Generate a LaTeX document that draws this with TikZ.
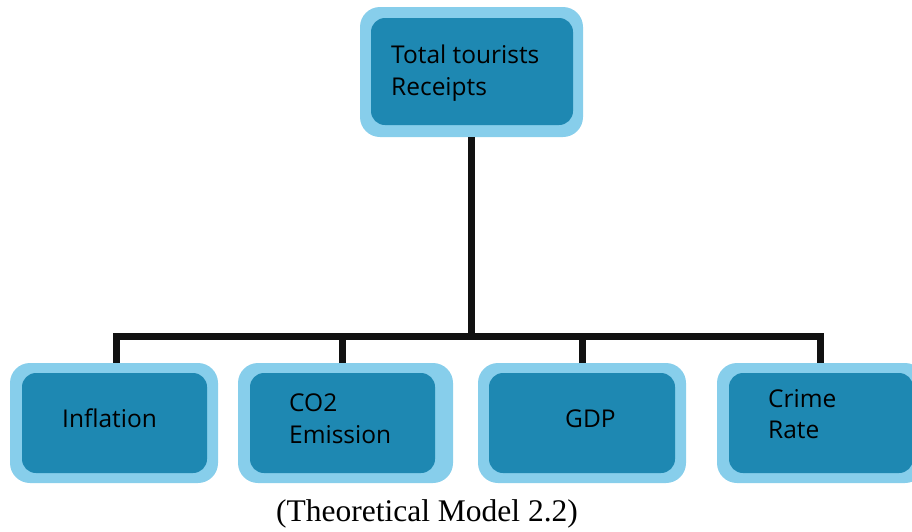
\documentclass[tikz,border=0pt]{standalone}
\usepackage{fontspec}
\setmainfont{Liberation Serif}
\newfontfamily\boxfont{Open Sans}
\definecolor{outerblue}{RGB}{135,206,235}
\definecolor{innerblue}{RGB}{30,136,178}
\definecolor{linecol}{RGB}{17,17,17}
\begin{document}
\begin{tikzpicture}[x=1pt,y=-1pt,
  outerbox/.style={rectangle, rounded corners=20pt, fill=outerblue, inner sep=0pt, outer sep=0pt, minimum height=120pt},
  innerbox/.style={rectangle, rounded corners=14pt, fill=innerblue, inner sep=0pt, outer sep=0pt, minimum height=100pt},
  lbl/.style={anchor=base west, inner sep=0pt, font=\boxfont\fontsize{24.5}{30}\selectfont, text=black},
  conn/.style={draw=linecol, line width=7pt, line join=miter}]
\clip (0,0) rectangle (912,531);
% top box
\node[outerbox, minimum width=223pt, minimum height=130pt] (top) at (471.5,72) {};
\node[innerbox, minimum width=202pt, minimum height=107pt] (topi) at (472,71.5) {};
\node[lbl] (t1) at (391,63) {Total tourists};
\node[lbl] (t2) at (391,95) {Receipts};
% bottom boxes
\node[outerbox, minimum width=208pt] (infl) at (114,423) {};
\node[innerbox, minimum width=185pt] (infli) at (114.5,423) {};
\node[lbl] (l1) at (62,427) {Inflation};
\node[outerbox, minimum width=215pt] (co2) at (345.5,423) {};
\node[innerbox, minimum width=185pt] (co2i) at (342.5,423) {};
\node[lbl] (l2) at (289,411) {CO2};
\node[lbl] (l3) at (289,443) {Emission};
\node[outerbox, minimum width=208pt] (gdp) at (582,423) {};
\node[innerbox, minimum width=186pt] (gdpi) at (582,423) {};
\node[lbl] (l4) at (565,427) {GDP};
\node[outerbox, minimum width=208pt] (crime) at (821,423) {};
\node[innerbox, minimum width=184pt] (crimei) at (821,423) {};
\node[lbl] (l5) at (768,407) {Crime};
\node[lbl] (l6) at (768,438) {Rate};
% connectors
\coordinate (bus) at (471.5,336);
\draw[conn] (top.south) -- (bus);
\draw[conn] (bus) -| ([xshift=2pt]infl.north);
\draw[conn] (bus) -| ([xshift=-3.5pt]co2.north);
\draw[conn] (bus) -| (gdp.north);
\draw[conn] (bus) -| ([xshift=-1pt]crime.north);
% caption
\node[anchor=base, inner sep=0pt, font=\fontsize{31.5}{38}\selectfont] (cap) at (427,521) {(Theoretical Model 2.2)};
\end{tikzpicture}
\end{document}
